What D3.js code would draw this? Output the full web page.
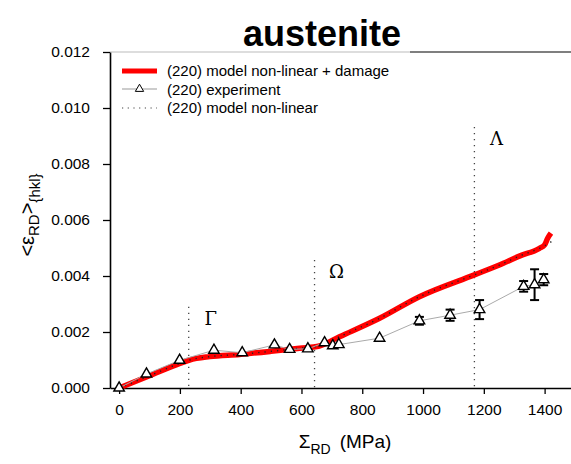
<!DOCTYPE html>
<html>
<head>
  <style>
    body { margin: 0px; padding: 0px; background: white; }
    text { font-family: "Liberation Sans", Arial, sans-serif; }
  </style>
</head>
<body>
  <div id="chart"></div>
  <script src="https://cdnjs.cloudflare.com/ajax/libs/d3/7.8.5/d3.min.js"></script>
  <script>
    // model non-linear + damage (red)
    var damageStress = [0, 100, 200, 232, 298, 396, 500, 594, 659, 725, 857, 988, 1169, 1251, 1317, 1383, 1400, 1410, 1421];
    var damageStrain = [0, 0.00044, 0.00088, 0.00100, 0.00112, 0.00120, 0.00131, 0.00142, 0.00150, 0.00183, 0.00249, 0.00326, 0.00404, 0.00439, 0.00471, 0.00499, 0.00511, 0.00535, 0.00553];
    // model non-linear (dotted)
    var nonlinStress = [0, 100, 200, 232, 298, 396, 500, 594, 659, 725, 857, 988, 1169, 1251, 1317, 1383, 1400, 1423];
    var nonlinStrain = [0, 0.00044, 0.00088, 0.00100, 0.00112, 0.00120, 0.00131, 0.00142, 0.00150, 0.00183, 0.00249, 0.00326, 0.00404, 0.00439, 0.00471, 0.00499, 0.00508, 0.00523];
    // experiment
    var expStress = [0, 90, 199, 312, 405, 511, 561, 621, 676, 703, 723, 857, 988, 1089, 1186, 1331, 1367, 1397];
    var expStrain = [0, 0.00050, 0.00099, 0.00135, 0.00126, 0.00154, 0.00138, 0.00140, 0.00162, 0.00151, 0.00155, 0.00178, 0.00240, 0.00260, 0.00280, 0.00363, 0.00369, 0.00387];
    var expErr = [0, 0.00003, 0.00003, 0.00003, 0.00003, 0.00003, 0.00003, 0.00003, 0.00003, 0.00003, 0.00003, 0.00004, 0.00014, 0.00020, 0.00034, 0.00019, 0.00055, 0.00020];
    // regime markers
    var regimeLabels = ['\u0393', '\u03A9', '\u039B'];
    var regimeStress = [229, 643, 1169];
    var regimeTop = [0.0029, 0.00457, 0.00932];

    var xTicks = [0, 200, 400, 600, 800, 1000, 1200, 1400];
    var yTicks = [0, 0.002, 0.004, 0.006, 0.008, 0.010, 0.012];
    var legendLabels = ['(220) model non-linear + damage', '(220) experiment', '(220) model non-linear'];

    var width = 571, height = 464;
    var svg = d3.select('#chart').append('svg').attr('width', width).attr('height', height);

    var x = d3.scaleLinear().domain([-30, 1500]).range([110, 575]);
    var y = d3.scaleLinear().domain([0, 0.012]).range([388, 52]);

    // top frame
    svg.append('line').attr('x1', 110).attr('x2', 410).attr('y1', 52).attr('y2', 52)
      .style('stroke', '#bbb').style('stroke-width', 1);
    svg.append('line').attr('x1', 410).attr('x2', 575).attr('y1', 52).attr('y2', 52)
      .style('stroke', '#000').style('stroke-width', 1.2);

    // axes
    var yAxis = svg.append('g').attr('transform', 'translate(110,0)')
      .call(d3.axisLeft(y).tickValues(yTicks).tickFormat(d3.format('.3f')).tickSize(7).tickSizeOuter(0).tickPadding(13));
    var xAxis = svg.append('g').attr('transform', 'translate(0,388)')
      .call(d3.axisBottom(x).tickValues(xTicks).tickFormat(d3.format('d')).tickSize(6).tickSizeOuter(0).tickPadding(10));
    [yAxis, xAxis].forEach(function(g) {
      g.selectAll('text').style('font-size', '15.5px').style('fill', '#000').style('font-family', '"Liberation Sans", Arial, sans-serif');
      g.select('.domain').style('stroke-width', 1.6);
      g.selectAll('.tick line').style('stroke-width', 1.3);
    });

    // regime dotted lines
    regimeStress.forEach(function(s, i) {
      svg.append('line')
        .attr('x1', x(s)).attr('x2', x(s))
        .attr('y1', y(regimeTop[i])).attr('y2', y(0))
        .style('stroke', '#444').style('stroke-width', 1.3).style('stroke-dasharray', '1.3,4.7');
      svg.append('text')
        .attr('x', x(s) + 22).attr('y', y(regimeTop[i]) + 18)
        .attr('text-anchor', 'middle')
        .style('font-family', '"DejaVu Serif", "Liberation Serif", serif')
        .style('font-size', '18px')
        .text(regimeLabels[i]);
    });

    var line = d3.line().curve(d3.curveMonotoneX)
      .x(function(d) { return x(d[0]); })
      .y(function(d) { return y(d[1]); });

    // red model curve
    svg.append('path').datum(d3.zip(damageStress, damageStrain))
      .attr('d', line).style('fill', 'none').style('stroke', '#ff0000').style('stroke-width', 5.5);
    // dotted non-linear model
    svg.append('path').datum(d3.zip(nonlinStress, nonlinStrain))
      .attr('d', line).style('fill', 'none').style('stroke', '#222').style('stroke-width', 1.4).style('stroke-dasharray', '1.3,5');

    // experiment
    var expData = expStress.map(function(s, i) { return {s: s, e: expStrain[i], err: expErr[i]}; });
    svg.append('path').datum(expData)
      .attr('d', d3.line().x(function(d) { return x(d.s); }).y(function(d) { return y(d.e); }))
      .style('fill', 'none').style('stroke', '#aaa').style('stroke-width', 1);

    var bars = svg.selectAll('.err').data(expData.filter(function(d) { return d.err > 0.0001; })).enter().append('g');
    bars.append('line').attr('x1', function(d) { return x(d.s); }).attr('x2', function(d) { return x(d.s); })
      .attr('y1', function(d) { return y(d.e - d.err); }).attr('y2', function(d) { return y(d.e + d.err); })
      .style('stroke', '#000').style('stroke-width', 2);
    [-1, 1].forEach(function(k) {
      bars.append('line').attr('x1', function(d) { return x(d.s) - 4.5; }).attr('x2', function(d) { return x(d.s) + 4.5; })
        .attr('y1', function(d) { return y(d.e + k * d.err); }).attr('y2', function(d) { return y(d.e + k * d.err); })
        .style('stroke', '#000').style('stroke-width', 2);
    });

    svg.selectAll('.tri').data(expData).enter().append('path')
      .attr('transform', function(d) { return 'translate(' + x(d.s) + ',' + y(d.e) + ')'; })
      .attr('d', d3.symbol().type(d3.symbolTriangle).size(48))
      .style('fill', 'white').style('stroke', '#000').style('stroke-width', 1.4);

    // title
    svg.append('text').attr('x', 322).attr('y', 46).attr('text-anchor', 'middle')
      .style('font-size', '36px').style('font-weight', 'bold').text('austenite');

    // legend
    var lg = svg.append('g');
    lg.append('line').attr('x1', 122).attr('x2', 157).attr('y1', 71).attr('y2', 71)
      .style('stroke', '#ff0000').style('stroke-width', 5);
    lg.append('line').attr('x1', 122).attr('x2', 157).attr('y1', 89).attr('y2', 89)
      .style('stroke', '#999').style('stroke-width', 1);
    lg.append('path').attr('transform', 'translate(139.5,89)')
      .attr('d', d3.symbol().type(d3.symbolTriangle).size(30))
      .style('fill', 'white').style('stroke', '#000').style('stroke-width', 1);
    lg.append('line').attr('x1', 122).attr('x2', 157).attr('y1', 108).attr('y2', 108)
      .style('stroke', '#444').style('stroke-width', 1.2).style('stroke-dasharray', '1.2,4.5');
    lg.selectAll('.lt').data(legendLabels).enter().append('text')
      .attr('x', 167).attr('y', function(d, i) { return 76 + i * 18.5; })
      .style('font-size', '15px').text(function(d) { return d; });

    // x axis title
    var xt = svg.append('text').attr('x', 345).attr('y', 448).attr('text-anchor', 'middle').style('font-size', '19px');
    xt.append('tspan').text('\u03A3');
    xt.append('tspan').attr('dy', 6).style('font-size', '14px').text('RD');
    xt.append('tspan').attr('dy', -6).attr('dx', 9).text('(MPa)');

    // y axis title
    var yt = svg.append('text').attr('transform', 'translate(34,215) rotate(-90)')
      .attr('text-anchor', 'middle').style('font-size', '20px');
    yt.append('tspan').text('<\u03B5');
    yt.append('tspan').attr('dy', 5).style('font-size', '15px').text('RD');
    yt.append('tspan').attr('dy', -5).text('>');
    yt.append('tspan').attr('dy', 6).style('font-size', '15px').text('{hkl}');
  </script>
</body>
</html>
